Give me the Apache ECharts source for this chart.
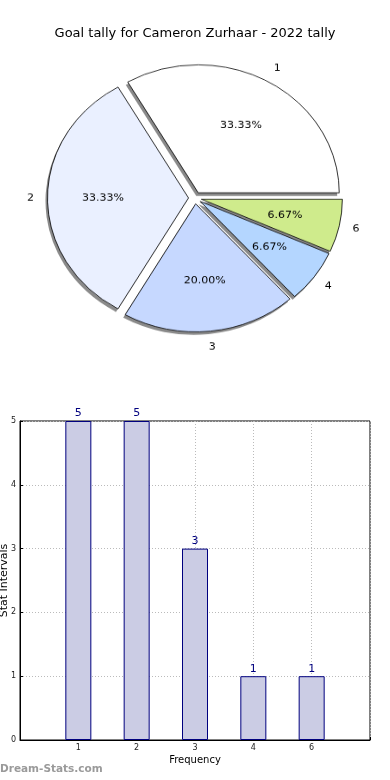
<!DOCTYPE html>
<html>
<head>
<meta charset="utf-8">
<script src="https://cdn.jsdelivr.net/npm/echarts@6/dist/echarts.min.js"></script>
<style>
html,body{margin:0;padding:0;background:#fff;width:390px;height:780px;overflow:hidden;}
#bar{position:absolute;left:0;top:0;width:390px;height:780px;}
#pie{position:absolute;left:0;top:0;width:390px;height:440px;transform-origin:0 0;transform:scaleY(0.908);}
</style>
</head>
<body>
<div id="bar"></div>
<div id="pie"></div>
<script>
// ---- data ----
var titleText = 'Goal tally for Cameron Zurhaar - 2022 tally';
var categories = ['1', '2', '3', '4', '6'];
var tallies = [5, 5, 3, 1, 1];
var sliceColors = ['#ffffff', '#eaf0ff', '#c6d8ff', '#b4d6ff', '#cfeb8c'];
var yTicks = [0, 1, 2, 3, 4, 5];
var xAxisName = 'Frequency';
var yAxisName = 'Stat Intervals';
var watermark = 'Dream-Stats.com';

var FONT = 'DejaVu Sans';

// ---- bar chart (and title / watermark) ----
var bar = echarts.init(document.getElementById('bar'), null, {renderer: 'canvas'});
var barData = categories.map(function (c, i) { return [i + 1, tallies[i]]; });
bar.setOption({
  animation: false,
  textStyle: {fontFamily: FONT},
  title: {
    text: titleText, left: 'center', top: 22,
    textStyle: {fontFamily: FONT, fontSize: 13, fontWeight: 'normal', color: '#000'}
  },
  graphic: [{
    type: 'text', left: 0, top: 764,
    style: {text: watermark, fill: '#9a9a9a', font: 'bold 10.5px "DejaVu Sans"'}
  }],
  grid: {left: 20, right: 20, top: 421, bottom: 40, containLabel: false, outerBoundsMode: 'none',
    show: true, borderColor: '#000', borderWidth: 1, backgroundColor: 'transparent'},
  xAxis: {
    type: 'value', min: 0, max: categories.length + 1, interval: 1,
    name: xAxisName, nameLocation: 'middle', nameGap: 15, nameMoveOverlap: false,
    nameTextStyle: {fontFamily: FONT, fontSize: 10, color: '#000'},
    axisLine: {show: true, lineStyle: {color: '#000', width: 1}},
    axisTick: {show: true, inside: true, length: 3, lineStyle: {color: '#000'}},
    axisLabel: {
      fontFamily: FONT, fontSize: 8, color: '#222', margin: 4,
      formatter: function (v) { return (v >= 1 && v <= categories.length) ? categories[v - 1] : ''; }
    },
    splitLine: {show: true, lineStyle: {color: '#bbb', type: [1, 2], width: 1}}
  },
  yAxis: {
    type: 'value', min: yTicks[0], max: yTicks[yTicks.length - 1], interval: 1,
    name: yAxisName, nameLocation: 'middle', nameGap: 10, nameRotate: 90, nameMoveOverlap: false,
    nameTextStyle: {fontFamily: FONT, fontSize: 11, color: '#000'},
    axisLine: {show: true, lineStyle: {color: '#000', width: 1}},
    axisTick: {show: true, inside: true, length: 3, lineStyle: {color: '#000'}},
    axisLabel: {fontFamily: FONT, fontSize: 8, color: '#222', margin: 4},
    splitLine: {show: true, lineStyle: {color: '#bbb', type: [1, 2], width: 1}}
  },
  series: [{
    type: 'bar', data: barData, barWidth: 26,
    itemStyle: {color: '#cbcce4', borderColor: '#00007f', borderWidth: 1},
    label: {show: true, position: 'top', distance: 2, fontFamily: FONT, fontSize: 11, color: '#00007f'},
    silent: true
  }]
});

// ---- pie chart (drawn in a vertically scaled layer to give the elliptical pie) ----
var pie = echarts.init(document.getElementById('pie'), null, {renderer: 'canvas'});
var R = 141;
var CX = 195, CY = 218;
var OFF = 6.5;
function pieData(withColor) {
  return categories.map(function (c, i) {
    var d = {name: c, value: tallies[i], selected: true};
    if (withColor) d.itemStyle = {color: sliceColors[i]};
    return d;
  });
}
var common = {
  type: 'pie', startAngle: 0, clockwise: false,
  selectedMode: 'multiple', selectedOffset: OFF,
  silent: true, animation: false, percentPrecision: 2,
  emphasis: {disabled: true},
  labelLine: {show: false}
};
pie.setOption({
  animation: false,
  series: [
    Object.assign({}, common, {
      name: 'shadow', center: [CX - 2, CY + 3.3], radius: [0, R],
      data: pieData(false),
      itemStyle: {color: '#8a8a8a', borderWidth: 0},
      label: {show: false}
    }),
    Object.assign({}, common, {
      name: 'main', center: [CX, CY], radius: [0, R],
      data: pieData(true),
      itemStyle: {borderColor: '#000', borderWidth: 0.8},
      label: {show: false}
    }),
    Object.assign({}, common, {
      name: 'pct', center: [CX, CY], radius: [0.485 * R, 0.685 * R],
      data: pieData(false),
      itemStyle: {color: 'transparent', borderWidth: 0},
      label: {
        show: true, position: 'inside', fontFamily: FONT, fontSize: 11, color: '#000',
        formatter: function (p) { return p.percent.toFixed(2) + '%'; }
      }
    }),
    Object.assign({}, common, {
      name: 'names', center: [CX, CY], radius: [1.05 * R, 1.15 * R],
      data: pieData(false),
      itemStyle: {color: 'transparent', borderWidth: 0},
      label: {
        show: true, position: 'inside', fontFamily: FONT, fontSize: 11, color: '#000',
        formatter: '{b}'
      }
    })
  ]
});
</script>
</body>
</html>
